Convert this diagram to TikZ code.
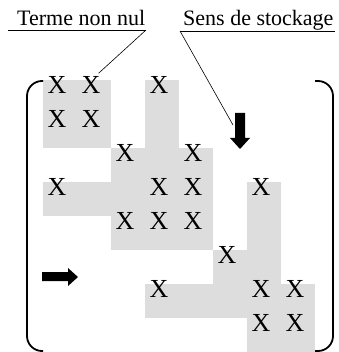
\documentclass[tikz,border=0pt]{standalone}
\usepackage{fontspec}
\setmainfont{Liberation Serif}
\definecolor{cellgray}{RGB}{221,221,221}
\begin{document}
\begin{tikzpicture}[x=1pt,y=-1pt,
  cell/.style={fill=cellgray, draw=none},
  xmark/.style={inner sep=0pt, font=\fontsize{26}{26}\selectfont},
  lab/.style={inner sep=0pt, anchor=base west, font=\fontsize{22}{24}\selectfont},
  bracket/.style={line width=1.8pt, rounded corners=15pt},
  leader/.style={line width=0.6pt},
  uline/.style={line width=0.9pt},
  bigarrow/.style={fill=black, draw=none}]
\useasboundingbox (0,0) rectangle (338,352);
% profile (grey cells)
\fill[cell] (43,80) rectangle (111,148);
\fill[cell] (145,80) rectangle (179,148);
\fill[cell] (111,148) rectangle (213,182);
\fill[cell] (43,182) rectangle (213,216);
\fill[cell] (247,182) rectangle (281,250);
\fill[cell] (111,216) rectangle (213,250);
\fill[cell] (213,250) rectangle (281,284);
\fill[cell] (145,284) rectangle (315,318);
\fill[cell] (247,318) rectangle (315,352);
% brackets
\draw[bracket] (43,81) -- (27,81) -- (27,351) -- (43,351);
\draw[bracket] (315,81) -- (333,81) -- (333,351) -- (315,351);
% non-zero terms
\foreach \r/\c in {1/1,1/2,1/4,2/1,2/2,3/3,3/5,4/1,4/4,4/5,4/7,5/3,5/4,5/5,6/6,7/4,7/7,7/8,8/7,8/8}
  \node[xmark] (x\r\c) at ({26+34*\c-3},{46+34*\r+5}) {X};
% arrows
\fill[bigarrow] (235,113) -- (245,113) -- (245,138) -- (250,138) -- (240,149) -- (230,138) -- (235,138) -- cycle;
\fill[bigarrow] (42,272) -- (68,272) -- (68,268) -- (78,277) -- (68,286) -- (68,281) -- (42,281) -- cycle;
\coordinate (dn) at (233,125);
% labels
\node[lab] (lterme) at (17,26) {Terme non nul};
\node[lab] (lsens) at (183,26) {Sens de stockage};
\coordinate (t0) at (8,30);
\coordinate (t1) at (146,30);
\coordinate (s1) at (180,31);
\coordinate (s2) at (335,31);
\draw[uline] (t0) -- (t1);
\draw[uline] (s1) -- (s2);
\draw[leader] (t1) -- ([xshift=-2pt,yshift=3pt]x12.north east);
\draw[leader] (s1) -- (dn);
\end{tikzpicture}
\end{document}
